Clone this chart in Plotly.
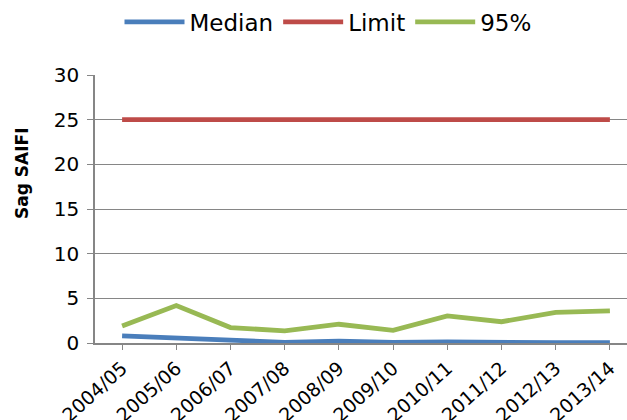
import plotly.graph_objects as go

# Financial years on the category axis
years = ["2004/05", "2005/06", "2006/07", "2007/08", "2008/09",
         "2009/10", "2010/11", "2011/12", "2012/13", "2013/14"]

# Sag SAIFI series
median = [0.8, 0.58, 0.4, 0.08, 0.2, 0.08, 0.12, 0.05, 0.05, 0.05]
limit = [25, 25, 25, 25, 25, 25, 25, 25, 25, 25]
pct95 = [1.9, 4.2, 1.73, 1.35, 2.1, 1.42, 3.04, 2.38, 3.42, 3.6]

W, H = 627, 420
ML, MR, MT, MB = 95, 0, 75, 77
step = 54.2  # pixel width of one category
x_hi = -0.5 + (W - ML - MR) / step

font_family = "DejaVu Sans"

fig = go.Figure()
for name, vals, color in [("Median", median, "#4A7EBB"),
                          ("Limit", limit, "#BE4B48"),
                          ("95%", pct95, "#98B954")]:
    fig.add_trace(go.Scatter(
        x=list(range(len(years))), y=vals, name=name, mode="lines",
        line=dict(color=color, width=4.8),
    ))

fig.update_layout(
    width=W, height=H,
    margin=dict(l=ML, r=MR, t=MT, b=MB, pad=0, autoexpand=False),
    paper_bgcolor="white", plot_bgcolor="white",
    font=dict(family=font_family, color="#000000"),
    showlegend=True,
    legend=dict(
        orientation="h", x=(328 - ML) / (W - ML - MR), xanchor="center",
        y=1 + (MT - 22) / (H - MT - MB), yanchor="middle",
        font=dict(size=23, family=font_family),
        itemwidth=60, bgcolor="rgba(0,0,0,0)",
    ),
    xaxis=dict(
        range=[-0.5, x_hi], automargin=False,
        tickmode="array", tickvals=list(range(len(years))), ticktext=years,
        tickangle=-42, tickfont=dict(size=19), ticklabelstandoff=0,
        showline=True, linecolor="#868686", linewidth=1.5,
        ticks="outside", ticklen=5, tickcolor="#868686", tickson="boundaries",
        showgrid=False, zeroline=False,
    ),
    yaxis=dict(
        range=[0, 30], automargin=False, tickvals=[0, 5, 10, 15, 20, 25, 30],
        tickfont=dict(size=20), ticklabelstandoff=4,
        showline=True, linecolor="#868686", linewidth=1.5,
        ticks="outside", ticklen=6, tickcolor="#868686",
        showgrid=True, gridcolor="#868686", gridwidth=1.2,
        zeroline=False,
    ),
    annotations=[dict(
        text="<b>Sag SAIFI</b>", textangle=-90, showarrow=False,
        xref="paper", yref="paper",
        x=(22 - ML) / (W - ML - MR), y=(H - MB - 174) / (H - MT - MB),
        xanchor="center", yanchor="middle",
        font=dict(size=17, family=font_family, color="#000000"),
    )],
)

fig.write_html("out.html")
